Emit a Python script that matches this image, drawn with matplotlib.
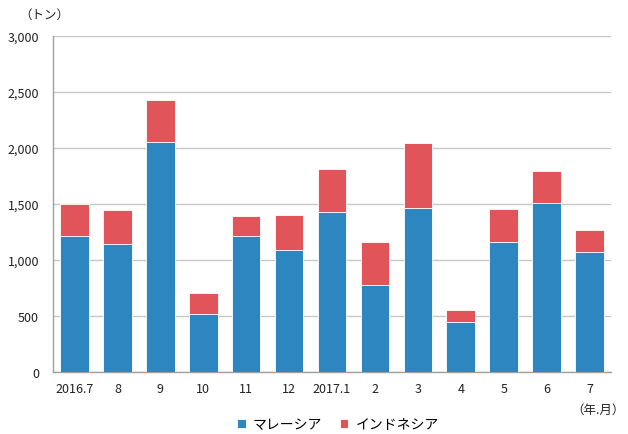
import matplotlib
matplotlib.use("Agg")
import matplotlib.pyplot as plt
from matplotlib.ticker import FuncFormatter

plt.rcParams['font.family'] = ['Noto Sans CJK JP', 'DejaVu Sans']

categories = ["2016.7", "8", "9", "10", "11", "12", "2017.1", "2", "3", "4", "5", "6", "7"]
malaysia = [1210, 1140, 2050, 520, 1210, 1085, 1432, 780, 1464, 450, 1165, 1505, 1070]
indonesia_total = [1500, 1444, 2428, 705, 1390, 1405, 1810, 1158, 2042, 557, 1452, 1795, 1268]
indonesia = [t - m for t, m in zip(indonesia_total, malaysia)]
series_names = ["マレーシア", "インドネシア"]

blue = "#2e86c1"
red = "#e0545a"

fig = plt.figure(figsize=(6.28, 4.35), dpi=100)
ax = fig.add_axes([53/628, 1-373/435, 558/628, 336/435])

x = range(len(categories))
ax.bar(x, malaysia, width=0.667, color=blue, edgecolor="#ffffff", linewidth=0.6, label=series_names[0], zorder=3)
ax.bar(x, indonesia, width=0.667, bottom=malaysia, color=red, edgecolor="#ffffff", linewidth=0.6, label=series_names[1], zorder=3)

ax.set_xlim(-0.5, len(categories) - 0.5)
ax.set_ylim(0, 3000)
ax.set_yticks(range(0, 3001, 500))
ax.yaxis.set_major_formatter(FuncFormatter(lambda v, p: f"{int(v):,}"))
ax.set_xticks(list(x))
ax.set_xticklabels(categories)
ax.grid(axis="y", color="#c8c8c8", linewidth=1.0, zorder=0)
for s in ["top", "right"]:
    ax.spines[s].set_visible(False)
for s in ["left", "bottom"]:
    ax.spines[s].set_color("#a0a0a0")
    ax.spines[s].set_linewidth(1.0)
ax.tick_params(axis="both", length=0, labelsize=9, colors="#222222")
ax.tick_params(axis="y", pad=10)
ax.tick_params(axis="x", pad=7)

fig.text(44/628, 1-15/435, "（トン）", fontsize=9, ha="center", va="center", color="#222222")
fig.text(598/628, 1-410/435, "（年.月）", fontsize=9, ha="center", va="center", color="#222222")

leg = fig.legend(loc="center", bbox_to_anchor=(338/628, 1-425/435), ncol=2, frameon=False,
                 fontsize=10, handlelength=0.6, handleheight=0.6, handletextpad=0.5, columnspacing=1.3)

fig.savefig("out.png", dpi=100)
